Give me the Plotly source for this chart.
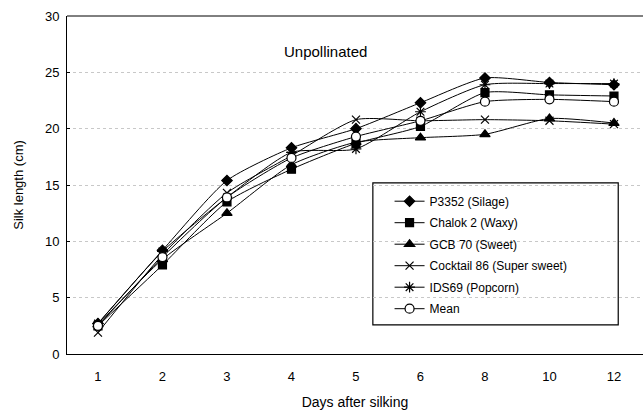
import plotly.graph_objects as go

days = ["1", "2", "3", "4", "5", "6", "8", "10", "12"]
p3352 = [2.7, 9.2, 15.4, 18.3, 20.0, 22.3, 24.5, 24.1, 23.9]
chalok2 = [2.5, 7.9, 13.5, 16.4, 18.7, 20.2, 23.2, 23.0, 22.9]
gcb70 = [2.6, 8.4, 12.5, 16.8, 18.8, 19.2, 19.5, 20.9, 20.5]
cocktail86 = [1.9, 8.8, 14.3, 17.6, 20.8, 20.7, 20.8, 20.7, 20.4]
ids69 = [2.7, 9.1, 13.9, 17.9, 18.2, 21.5, 23.9, 24.0, 24.0]
mean = [2.5, 8.6, 13.9, 17.4, 19.3, 20.7, 22.4, 22.6, 22.4]

names = ["P3352 (Silage)", "Chalok 2 (Waxy)", "GCB 70 (Sweet)",
         "Cocktail 86 (Super sweet)", "IDS69 (Popcorn)", "Mean"]
series = [p3352, chalok2, gcb70, cocktail86, ids69, mean]
symbols = ["diamond", "square", "triangle-up", "x-thin-open", "asterisk-open", "circle"]
sizes = [8, 8, 9, 8, 9, 9]
fills = ["black", "black", "black", "black", "black", "white"]

fig = go.Figure()
for i, (n, s) in enumerate(zip(names, series)):
    fig.add_trace(go.Scatter(
        x=days, y=s, name=n, mode="lines+markers",
        line=dict(color="black", width=1, shape="spline", smoothing=0.6),
        marker=dict(symbol=symbols[i], size=sizes[i], color=fills[i],
                    line=dict(color="black", width=1.2)),
        legendgroup=str(i),
    ))

fig.add_shape(type="rect", xref="paper", yref="paper",
              x0=0.531, x1=0.957, y0=0.086, y1=0.506,
              line=dict(color="black", width=1.2), fillcolor="white", layer="below")

fig.add_annotation(text="Unpollinated", xref="paper", yref="paper",
                   x=0.448, y=0.925, showarrow=False,
                   font=dict(size=15, color="black", family="Liberation Sans, Arial"))

fig.update_layout(
    width=643, height=416,
    margin=dict(l=67, r=0, t=16, b=62),
    paper_bgcolor="white", plot_bgcolor="white",
    font=dict(family="Liberation Sans, Arial", size=12, color="black"),
    showlegend=True,
    legend=dict(x=0.56, y=0.495, xanchor="left", yanchor="top",
                bgcolor="rgba(0,0,0,0)", borderwidth=0,
                traceorder="grouped", tracegroupgap=2.5,
                font=dict(size=12, family="Liberation Sans, Arial"),
                itemwidth=30),
    xaxis=dict(type="category", range=[-0.48, 8.45], showgrid=False,
               showline=True, linecolor="black", linewidth=1, mirror=False,
               ticks="", tickfont=dict(size=13), ticklabelstandoff=10,
               title=dict(text="Days after silking", font=dict(size=14), standoff=14)),
    yaxis=dict(range=[0, 30], dtick=5, showgrid=True, gridcolor="#c8c8c8",
               griddash="dot", gridwidth=1,
               showline=True, linecolor="black", linewidth=1,
               ticks="inside", ticklen=3, tickcolor="black",
               tickfont=dict(size=13), zeroline=False, ticklabelstandoff=4,
               title=dict(text="Silk length (cm)", font=dict(size=13), standoff=18)),
)
fig.add_shape(type="line", xref="paper", yref="paper", x0=0, x1=1, y0=1, y1=1,
              line=dict(color="black", width=1))

fig.write_html("out.html")
